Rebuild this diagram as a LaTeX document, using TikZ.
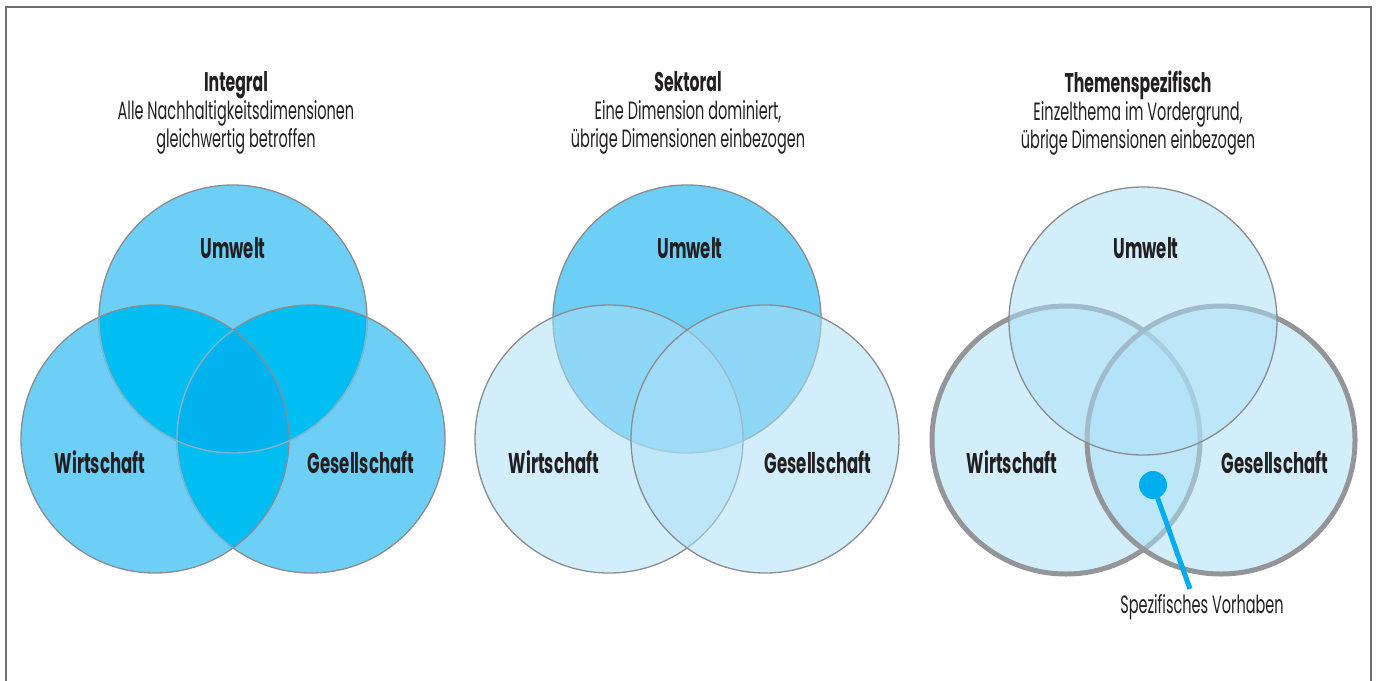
\documentclass[tikz,border=0pt]{standalone}
\usepackage{fontspec}
\setmainfont{Poppins}[FakeStretch=0.58]

\definecolor{rahmengrau}{RGB}{109,110,113}
\definecolor{liniengrau}{RGB}{138,140,143}
\definecolor{dickgrau}{RGB}{147,149,152}
\definecolor{schrift}{RGB}{35,31,32}
\definecolor{einfach}{RGB}{109,207,246}
\definecolor{doppelt}{RGB}{0,189,242}
\definecolor{dreifach}{RGB}{0,178,238}
\definecolor{linienhell}{RGB}{120,185,215}
\definecolor{hellblau}{RGB}{172,223,247}
\definecolor{punktblau}{RGB}{0,174,239}

\tikzset{
  linie/.style={draw=liniengrau, line width=1.3pt},
  linie hell/.style={draw=linienhell, line width=1.3pt},
  hellkreis/.style={fill=hellblau, fill opacity=0.53},
  dickkreis/.style={draw=dickgrau, line width=5pt},
  titel/.style={align=center, text=schrift, font=\fontsize{25}{28}\selectfont},
  feld/.style={text=schrift, font=\fontsize{28.5}{30}\selectfont\bfseries},
}

\newcommand{\kreisr}{134pt}
\newcommand{\kopf}[1]{{\fontsize{27}{28}\selectfont\bfseries #1}}

\begin{document}
\begin{tikzpicture}[x=1pt,y=-1pt]
\useasboundingbox (0,0) rectangle (1380,680);

%Rahmen
\draw[rahmengrau, line width=1.5pt] (6,690) -- (6,7) -- (1371,7) -- (1371,690);

%Mittelpunkte
\coordinate (u1) at (233,319); \coordinate (w1) at (155,439); \coordinate (g1) at (311,439);
\coordinate (u2) at (687,319); \coordinate (w2) at (609,439); \coordinate (g2) at (765,439);
\coordinate (u3) at (1143,321); \coordinate (w3) at (1066,440); \coordinate (g3) at (1221,440);

%Integral
\fill[einfach] (u1) circle (\kreisr) (w1) circle (\kreisr) (g1) circle (\kreisr);
\begin{scope}
\clip (u1) circle (\kreisr);
\fill[doppelt] (w1) circle (\kreisr) (g1) circle (\kreisr);
\end{scope}
\begin{scope}
\clip (w1) circle (\kreisr);
\fill[doppelt] (g1) circle (\kreisr);
\end{scope}
\begin{scope}
\clip (u1) circle (\kreisr);
\clip (w1) circle (\kreisr);
\fill[dreifach] (g1) circle (\kreisr);
\end{scope}
\draw[linie] (u1) circle (\kreisr) (g1) circle (\kreisr) (w1) circle (\kreisr);
\begin{scope}
\clip (w1) circle (\kreisr) (g1) circle (\kreisr);
\draw[linie hell] (u1) circle (\kreisr);
\end{scope}
\begin{scope}
\clip (w1) circle (\kreisr);
\draw[linie hell] (g1) circle (\kreisr);
\end{scope}

%Sektoral
\filldraw[fill=einfach, linie] (u2) circle (\kreisr);
\filldraw[hellkreis, linie] (w2) circle (\kreisr);
\filldraw[hellkreis, linie] (g2) circle (\kreisr);

%Themenspezifisch
\filldraw[hellkreis, dickkreis] (w3) circle (\kreisr);
\filldraw[hellkreis, dickkreis] (g3) circle (\kreisr);
\filldraw[hellkreis, linie] (u3) circle (\kreisr);

%Punkt mit Stiel
\node[circle, fill=punktblau, minimum size=28pt, inner sep=0pt] (punkt) at (1153,485) {};
\coordinate (stielende) at (1190,589);
\draw[punktblau, line width=5pt] (punkt.center) -- (stielende);

%Beschriftung
\node[titel] (titel1) at (236,113) {\kopf{Integral}\\Alle Nachhaltigkeitsdimensionen\\gleichwertig betroffen};
\node[titel] (titel2) at (688,113) {\kopf{Sektoral}\\Eine Dimension dominiert,\\übrige Dimensionen einbezogen};
\node[titel] (titel3) at (1138,113) {\kopf{Themenspezifisch}\\Einzelthema im Vordergrund,\\übrige Dimensionen einbezogen};

\node[feld] (umwelt1) at (233,248) {Umwelt};
\node[feld] (wirtschaft1) at (100,462) {Wirtschaft};
\node[feld] (gesellschaft1) at (361,462) {Gesellschaft};

\node[feld] (umwelt2) at (690,248) {Umwelt};
\node[feld] (wirtschaft2) at (554,462) {Wirtschaft};
\node[feld] (gesellschaft2) at (818,462) {Gesellschaft};

\node[feld] (umwelt3) at (1146,248) {Umwelt};
\node[feld] (wirtschaft3) at (1012,462) {Wirtschaft};
\node[feld] (gesellschaft3) at (1275,462) {Gesellschaft};

\node[titel] (vorhaben) at (1202,607) {Spezifisches Vorhaben};

\end{tikzpicture}
\end{document}
